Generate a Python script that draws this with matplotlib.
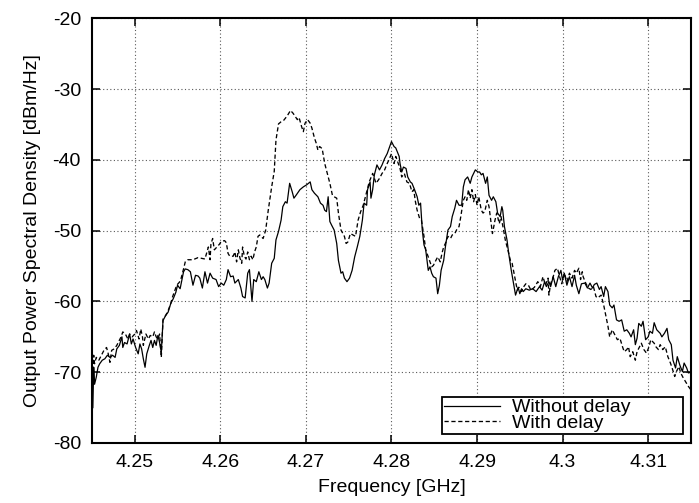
import matplotlib
matplotlib.use("Agg")
import matplotlib.pyplot as plt

plt.rcParams['font.family'] = ['Liberation Sans', 'DejaVu Sans']
plt.rcParams['axes.unicode_minus'] = False

# ---- Data: "Without delay" (solid) ----
freq_without = [
    4.2451, 4.2452, 4.2453, 4.2455, 4.2457, 4.2459, 4.2462, 4.2465, 4.2468, 4.2471,
    4.2474, 4.2477, 4.2479, 4.2482, 4.2485, 4.2486, 4.2488, 4.2491, 4.2494, 4.2496,
    4.2498, 4.2501, 4.2504, 4.2506, 4.2508, 4.2510, 4.2512, 4.2514, 4.2517, 4.2519,
    4.2521, 4.2523, 4.2525, 4.2527, 4.2529, 4.2531, 4.2533, 4.2536, 4.2539, 4.2542,
    4.2545, 4.2548, 4.2550, 4.2553, 4.2555, 4.2557, 4.2559,
    4.2562, 4.2565, 4.2568, 4.2571, 4.2574, 4.2576, 4.2579, 4.2582, 4.2585, 4.2588,
    4.2591, 4.2595, 4.2598, 4.2601, 4.2604, 4.2607, 4.2609, 4.2612, 4.2615, 4.2617,
    4.2621, 4.2624, 4.2626, 4.2629, 4.2632, 4.2634, 4.2637, 4.2639, 4.2642, 4.2645,
    4.2648, 4.2650, 4.2652, 4.2655, 4.2657, 4.2660, 4.2663, 4.2665, 4.2668, 4.2671,
    4.2673, 4.2676, 4.2678, 4.2681,
    4.2684, 4.2686, 4.2689, 4.2693, 4.2697, 4.2701, 4.2705, 4.2707, 4.2710, 4.2714,
    4.2717, 4.2720, 4.2722, 4.2724, 4.2726, 4.2728, 4.2730, 4.2733, 4.2736, 4.2738,
    4.2741, 4.2743, 4.2745, 4.2748, 4.2751, 4.2754, 4.2757, 4.2760, 4.2763, 4.2766,
    4.2768, 4.2771, 4.2772, 4.2775, 4.2776, 4.2778, 4.2780, 4.2783, 4.2786, 4.2789,
    4.2792, 4.2795, 4.2798, 4.2800, 4.2803, 4.2805, 4.2809, 4.2810, 4.2812, 4.2814,
    4.2817, 4.2819, 4.2822, 4.2824, 4.2827, 4.2830, 4.2832, 4.2834, 4.2836, 4.2838,
    4.2840, 4.2843, 4.2845, 4.2847, 4.2849, 4.2852, 4.2854, 4.2856, 4.2858, 4.2861,
    4.2863, 4.2866, 4.2869, 4.2871, 4.2874, 4.2876, 4.2879, 4.2882, 4.2884, 4.2886,
    4.2889, 4.2892, 4.2894, 4.2898, 4.2901, 4.2903, 4.2905, 4.2907, 4.2910,
    4.2912, 4.2914, 4.2917, 4.2919, 4.2922, 4.2924, 4.2927, 4.2929, 4.2930, 4.2932,
    4.2935, 4.2937, 4.2940, 4.2942, 4.2945, 4.2948, 4.2950, 4.2952, 4.2954, 4.2957,
    4.2961, 4.2965, 4.2969, 4.2973, 4.2976, 4.2979, 4.2981, 4.2984, 4.2986, 4.2989,
    4.2992, 4.2995, 4.2998, 4.3000, 4.3002, 4.3005, 4.3008, 4.3011, 4.3014, 4.3016,
    4.3019, 4.3022,
    4.3026, 4.3029, 4.3032, 4.3035, 4.3037, 4.3040, 4.3043, 4.3045, 4.3048, 4.3050,
    4.3053, 4.3055, 4.3058, 4.3060, 4.3063, 4.3066, 4.3069, 4.3072, 4.3075, 4.3078,
    4.3080, 4.3083, 4.3085, 4.3087, 4.3089, 4.3092, 4.3094, 4.3097, 4.3100, 4.3102,
    4.3105, 4.3107, 4.3110, 4.3114, 4.3116, 4.3119, 4.3122, 4.3124, 4.3127, 4.3129,
    4.3132, 4.3134, 4.3137, 4.3140, 4.3142, 4.3145, 4.3147, 4.3150,
]
psd_without = [
    -75.0, -69.3, -71.7, -70.7, -69.3, -68.8, -68.3, -68.1, -67.6, -67.9,
    -67.6, -67.9, -66.7, -66.2, -65.0, -66.5, -65.8, -66.0, -64.6, -66.0,
    -65.3, -66.5, -67.4, -66.0, -66.7, -68.1, -69.3, -67.4, -66.2, -65.5,
    -66.5, -65.5, -66.2, -64.8, -65.8, -67.2, -62.7, -62.0, -61.5, -60.3,
    -59.6, -58.7, -57.7, -58.2, -57.0, -55.8, -55.4,
    -55.5, -55.8, -57.7, -56.3, -56.4, -56.7, -58.1, -55.8, -57.4, -56.0,
    -56.7, -56.9, -57.9, -57.4, -57.7, -56.9, -55.5, -56.5, -56.4, -57.4,
    -56.9, -58.1, -59.3, -59.5, -56.0, -55.5, -60.0, -56.9, -57.2, -55.8,
    -56.9, -56.5, -56.9, -58.1, -57.4, -54.6, -53.9, -51.3, -50.1, -48.5,
    -46.6, -45.9, -46.1, -43.3,
    -44.5, -45.4, -44.9, -44.2, -43.8, -43.5, -43.1, -44.2, -44.7, -45.2,
    -46.1, -46.4, -47.1, -47.3, -45.2, -48.7, -49.2, -49.9, -51.8, -54.2,
    -56.0, -55.8, -56.7, -57.2, -56.7, -55.6, -53.7, -52.3, -50.8, -48.5,
    -46.1, -46.4, -44.2, -43.1, -45.4, -44.2, -42.1, -40.7, -41.4, -40.7,
    -39.8, -39.1, -38.1, -37.4, -38.1, -38.3, -39.5, -40.5, -41.7, -41.0,
    -41.2, -42.4, -43.1, -43.3, -44.2, -45.2, -46.4, -46.1, -49.9, -52.0,
    -52.7, -55.6, -55.1, -56.0, -56.5, -56.7, -58.9, -57.7, -55.6, -54.2,
    -52.3, -49.9, -49.4, -48.0, -46.8, -45.7, -46.4, -46.4, -43.8, -42.8,
    -42.4, -43.3, -42.4, -41.4, -41.7, -41.7, -42.1, -41.9, -43.3,
    -42.4, -45.0, -45.7, -45.2, -45.9, -47.5, -48.0, -46.6, -47.1, -49.4,
    -51.3, -53.2, -55.6, -57.0, -59.1, -58.0, -58.9, -58.2, -58.6, -58.2,
    -58.4, -58.2, -58.6, -57.9, -58.4, -57.2, -57.9, -57.2, -57.9, -56.5,
    -57.9, -56.5, -55.6, -57.0, -56.0, -57.7, -56.5, -57.9, -56.3, -57.7,
    -58.9, -57.5,
    -57.4, -58.1, -57.4, -58.1, -57.6, -57.4, -58.3, -57.9, -59.3, -57.9,
    -58.6, -60.5, -60.9, -60.5, -62.6, -62.8, -62.6, -64.2, -64.0, -64.5,
    -65.0, -64.0, -66.1, -65.2, -63.1, -63.5, -62.8, -65.4, -65.0, -64.2,
    -64.5, -63.0, -64.0, -64.5, -65.0, -64.5, -63.8, -65.4, -66.1, -68.3,
    -69.4, -67.8, -69.0, -69.9, -68.7, -69.4, -70.1, -70.0,
]

# ---- Data: "With delay" (dashed) ----
freq_with = [
    4.2451, 4.2452, 4.2453, 4.2455, 4.2458, 4.2461, 4.2464, 4.2467, 4.2469, 4.2471,
    4.2473, 4.2476, 4.2479, 4.2482, 4.2484, 4.2486, 4.2489, 4.2492, 4.2494, 4.2497,
    4.2500, 4.2502, 4.2505, 4.2507, 4.2509, 4.2510, 4.2513, 4.2516, 4.2518, 4.2521,
    4.2523, 4.2525, 4.2527, 4.2529, 4.2531, 4.2533, 4.2536, 4.2539, 4.2542, 4.2544,
    4.2547, 4.2549, 4.2552, 4.2554, 4.2557, 4.2559,
    4.2562, 4.2568, 4.2574, 4.2582, 4.2586, 4.2588, 4.2589, 4.2591, 4.2593, 4.2596,
    4.2599, 4.2601, 4.2605, 4.2607, 4.2609, 4.2611, 4.2615, 4.2617, 4.2619, 4.2621,
    4.2623, 4.2625, 4.2626, 4.2628, 4.2630, 4.2632, 4.2634, 4.2636, 4.2638, 4.2640,
    4.2642, 4.2644, 4.2646, 4.2650, 4.2653, 4.2656, 4.2660, 4.2663,
    4.2665, 4.2668, 4.2671, 4.2674, 4.2676, 4.2679, 4.2682, 4.2685, 4.2690, 4.2692,
    4.2695, 4.2697, 4.2699, 4.2702, 4.2705, 4.2707, 4.2710, 4.2712, 4.2714, 4.2716,
    4.2719, 4.2722, 4.2725, 4.2728, 4.2731, 4.2733, 4.2736, 4.2738, 4.2741, 4.2745,
    4.2747, 4.2749, 4.2752, 4.2755, 4.2758, 4.2761, 4.2764, 4.2767, 4.2771, 4.2774,
    4.2778, 4.2782, 4.2786, 4.2789,
    4.2792, 4.2795, 4.2797, 4.2800, 4.2803, 4.2805, 4.2808, 4.2810, 4.2812, 4.2815,
    4.2818, 4.2821, 4.2824, 4.2826, 4.2828, 4.2830, 4.2833, 4.2835, 4.2838, 4.2840,
    4.2843, 4.2847, 4.2849, 4.2851, 4.2854, 4.2857, 4.2859, 4.2861, 4.2863, 4.2866,
    4.2869, 4.2871, 4.2874, 4.2876, 4.2879, 4.2881, 4.2884, 4.2886, 4.2888, 4.2890,
    4.2892, 4.2894, 4.2896, 4.2898, 4.2900, 4.2902, 4.2905, 4.2907,
    4.2909, 4.2912, 4.2914, 4.2916, 4.2918, 4.2921, 4.2923, 4.2926, 4.2928, 4.2931,
    4.2933, 4.2936, 4.2939, 4.2941, 4.2944, 4.2947, 4.2949, 4.2952, 4.2954, 4.2957,
    4.2960, 4.2963, 4.2967, 4.2971, 4.2974, 4.2977, 4.2980, 4.2983, 4.2984, 4.2986,
    4.2989, 4.2991, 4.2994, 4.2996, 4.2999, 4.3002, 4.3005, 4.3008, 4.3011, 4.3014,
    4.3016, 4.3019,
    4.3021, 4.3023, 4.3024, 4.3027, 4.3030, 4.3033, 4.3036, 4.3039, 4.3041, 4.3045,
    4.3048, 4.3050, 4.3053, 4.3055, 4.3058, 4.3061, 4.3064, 4.3067, 4.3070, 4.3072,
    4.3075, 4.3077, 4.3079, 4.3082, 4.3085, 4.3087, 4.3090, 4.3092, 4.3095, 4.3098,
    4.3101, 4.3103, 4.3107, 4.3109, 4.3112, 4.3114, 4.3117, 4.3120, 4.3123, 4.3126,
    4.3128, 4.3131, 4.3133, 4.3136, 4.3138, 4.3141, 4.3145, 4.3147, 4.3150,
]
psd_with = [
    -69.8, -67.6, -68.8, -67.9, -68.3, -67.6, -66.9, -66.5, -67.4, -68.6,
    -66.9, -66.7, -66.2, -65.5, -65.0, -64.3, -64.6, -65.3, -64.6, -65.0,
    -64.6, -64.1, -65.3, -63.9, -65.0, -66.2, -64.6, -65.3, -64.8, -65.0,
    -64.3, -65.0, -65.3, -64.6, -67.9, -62.5, -62.0, -61.3, -60.3, -59.4,
    -58.4, -57.7, -57.3, -56.8, -55.4, -54.4,
    -54.1, -54.1, -53.8, -54.0, -52.3, -54.1, -51.9, -51.1, -52.7, -52.3,
    -51.9, -51.5, -51.4, -51.7, -53.2, -53.6, -53.6, -53.0, -54.4, -52.7,
    -53.9, -54.6, -52.3, -53.6, -54.0, -53.0, -54.1, -53.6, -54.1, -53.0,
    -52.3, -50.8, -50.6, -51.1, -49.9, -47.1, -43.8, -41.6,
    -37.2, -34.9, -34.6, -34.4, -34.1, -33.6, -33.0, -33.4, -34.3, -34.0,
    -35.3, -36.0, -34.8, -34.3, -34.8, -35.5, -36.9, -37.6, -38.6, -38.1,
    -38.4, -40.5, -41.9, -43.3, -45.0, -45.2, -45.4, -47.5, -49.9, -50.8,
    -51.8, -51.6, -50.4, -50.6, -50.8, -48.5, -47.3, -46.4, -44.5, -43.1,
    -41.9, -43.3, -42.6, -41.9,
    -41.4, -40.5, -40.0, -39.1, -40.5, -39.5, -40.5, -41.2, -42.4, -41.9,
    -43.1, -43.3, -44.5, -44.2, -45.9, -47.1, -48.3, -48.5, -50.8, -52.7,
    -53.7, -55.1, -54.9, -54.4, -53.7, -54.4, -53.2, -52.3, -51.8, -50.8,
    -51.1, -50.6, -50.4, -49.9, -49.4, -48.0, -45.7, -45.2, -45.7, -44.2,
    -45.4, -44.2, -45.9, -44.9, -46.4, -45.2, -47.1, -47.5,
    -47.3, -45.7, -46.6, -48.5, -50.4, -48.5, -47.5, -49.0, -48.0, -49.9,
    -51.3, -52.7, -54.2, -54.6, -56.5, -58.4, -58.0, -58.6, -58.0, -57.5,
    -57.7, -58.4, -58.0, -57.2, -57.9, -56.5, -57.7, -56.7, -59.1, -57.5,
    -56.5, -55.6, -55.3, -56.3, -57.5, -56.0, -57.2, -56.0, -56.7, -55.6,
    -56.0, -55.3,
    -56.9, -55.8, -56.5, -57.4, -58.1, -58.3, -57.9, -59.3, -59.5, -59.1,
    -60.5, -61.7, -63.5, -65.0, -64.0, -64.7, -65.4, -65.2, -66.4, -67.1,
    -66.8, -66.4, -67.8, -67.1, -68.3, -67.1, -66.4, -65.9, -66.8, -67.3,
    -66.4, -65.4, -65.9, -66.4, -66.8, -66.1, -66.8, -66.4, -67.8, -68.7,
    -69.4, -70.6, -69.9, -69.2, -70.1, -70.8, -71.6, -72.0, -72.5,
]

x_ticks = [4.25, 4.26, 4.27, 4.28, 4.29, 4.30, 4.31]
x_tick_labels = ["4.25", "4.26", "4.27", "4.28", "4.29", "4.3", "4.31"]
y_ticks = [-80, -70, -60, -50, -40, -30, -20]
series_labels = ["Without delay", "With delay"]

fig = plt.figure(figsize=(6.99, 5.03), dpi=100)
ax = fig.add_axes([0.1316, 0.1193, 0.8569, 0.8440])

ax.plot(freq_without, psd_without, color='black', lw=0.9, ls='-',
        label=series_labels[0])
ax.plot(freq_with, psd_with, color='black', lw=0.95, ls=(0, (3.2, 2.0)),
        label=series_labels[1])

ax.set_xlim(4.245, 4.315)
ax.set_ylim(-80, -20)
ax.set_xticks(x_ticks)
ax.set_xticklabels(x_tick_labels)
ax.set_yticks(y_ticks)

ax.grid(True, color='0.35', ls=(0, (1, 2.2)), lw=0.8)
ax.tick_params(direction='in', length=6, width=1.1, top=True, right=True,
               labelsize=14, pad=8)
for s in ax.spines.values():
    s.set_linewidth(1.5)

ax.set_xlabel("Frequency [GHz]", fontsize=14, labelpad=6)
ax.set_ylabel("Output Power Spectral Density [dBm/Hz]", fontsize=14, labelpad=8)

leg = ax.legend(loc='lower left', bbox_to_anchor=(0.584, 0.021, 0.402, 0.097),
                mode='expand', borderaxespad=0, fancybox=False, framealpha=1,
                edgecolor='black', fontsize=14, handlelength=2.9,
                handletextpad=0.6, labelspacing=-0.1, borderpad=0.1)
leg.get_frame().set_linewidth(1.3)
leg._legend_box.align = "left"

fig.savefig("out.png", dpi=100)
